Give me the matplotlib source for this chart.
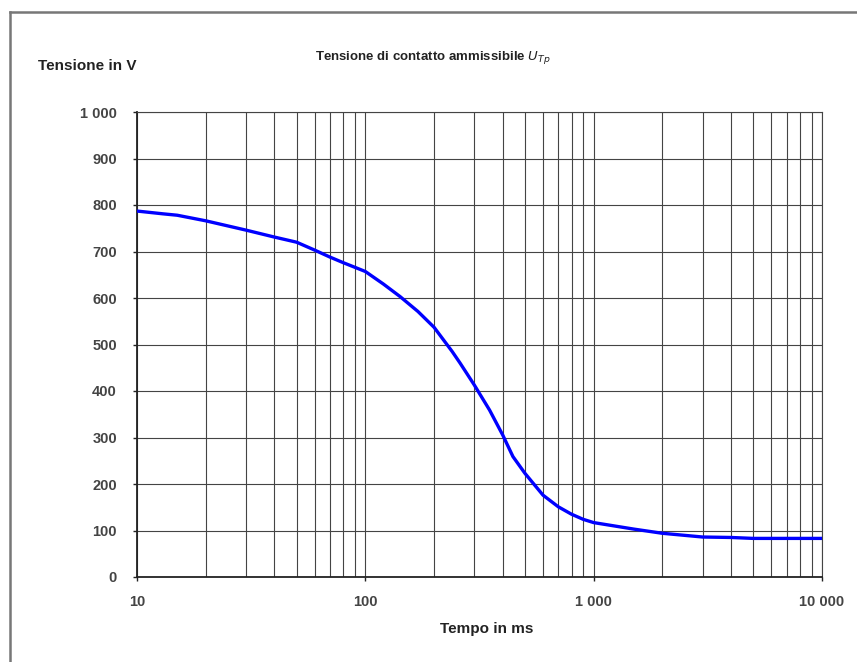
import matplotlib.pyplot as plt
from matplotlib.lines import Line2D
from matplotlib.ticker import FixedLocator, FuncFormatter, NullFormatter

# tempo in ms / tensione in V
tempo = [10, 13, 15, 20, 30, 40, 50, 60, 70, 80, 90, 100, 120, 142, 170, 200,
         240, 260, 300, 350, 400, 443, 500, 600, 700, 800, 900, 1000, 1500, 2000,
         3000, 4000, 5000, 7000, 10000]
tensione = [787, 781, 778, 766, 746, 731, 720, 703, 688, 676, 666, 657, 630,
            603, 571, 537, 485, 460, 413, 359, 305, 259, 223, 176, 151, 135, 124,
            117, 103, 94, 86, 85, 83, 83, 83]

x_ticks = [10, 100, 1000, 10000]
x_labels = ['10', '100', '1 000', '10 000']
y_ticks = list(range(0, 1001, 100))

plt.rcParams['font.family'] = ['Liberation Sans', 'DejaVu Sans']

fig = plt.figure(figsize=(8.57, 6.62), dpi=100)
ax = fig.add_axes([137 / 857, 1 - 577 / 662, 685 / 857, 465 / 662])

ax.plot(tempo, tensione, color='#0000ff', linewidth=2.4, solid_capstyle='butt',
        solid_joinstyle='round', zorder=3)

ax.set_xscale('log')
ax.set_xlim(10, 10000)
ax.set_ylim(0, 1000)

ax.xaxis.set_major_locator(FixedLocator(x_ticks))
ax.xaxis.set_major_formatter(FuncFormatter(lambda v, p: x_labels[x_ticks.index(int(round(v)))] if int(round(v)) in x_ticks else ''))
minor = [m * d for d in (10, 100, 1000) for m in range(2, 10)]
ax.xaxis.set_minor_locator(FixedLocator(minor))
ax.xaxis.set_minor_formatter(NullFormatter())
ax.yaxis.set_major_locator(FixedLocator(y_ticks))
ax.yaxis.set_major_formatter(FuncFormatter(lambda v, p: f'{int(v):,}'.replace(',', ' ')))

ax.grid(True, which='both', axis='x', color='#444444', linewidth=0.8)
ax.grid(True, which='major', axis='y', color='#444444', linewidth=0.8)
ax.set_axisbelow(True)

for side in ['left', 'bottom']:
    ax.spines[side].set_color('#222222')
    ax.spines[side].set_linewidth(1.3)
for side in ['top', 'right']:
    ax.spines[side].set_color('#444444')
    ax.spines[side].set_linewidth(0.8)

ax.tick_params(axis='both', which='major', direction='out', length=3, width=1,
               color='#222222', labelsize=10.5, labelcolor='#444444')
ax.tick_params(axis='x', which='major', pad=10)
ax.tick_params(axis='y', which='major', pad=11.5)
ax.tick_params(axis='x', which='minor', length=0)
for lab in ax.get_xticklabels() + ax.get_yticklabels():
    lab.set_fontweight('bold')

fig.text(487 / 857, 1 - 629 / 662, 'Tempo in ms', fontsize=11, fontweight='bold',
         color='#222222', ha='center', va='center')
fig.text(38 / 857, 1 - 66 / 662, 'Tensione in V', fontsize=11, fontweight='bold',
         color='#222222', ha='left', va='center')
fig.text(433 / 857, 1 - 58 / 662, r'Tensione di contatto ammissibile $\mathit{U}_{\mathit{Tp}}$',
         fontsize=9.5, fontweight='bold', color='#222222', ha='center', va='center')

# cornice della pagina
fig.add_artist(Line2D([9.5 / 857, 9.5 / 857], [0, 1 - 12 / 662], color='#777777', linewidth=1.8))
fig.add_artist(Line2D([9.5 / 857, 1], [1 - 12 / 662, 1 - 12 / 662], color='#777777', linewidth=1.8))

fig.savefig('out.png', dpi=100)
